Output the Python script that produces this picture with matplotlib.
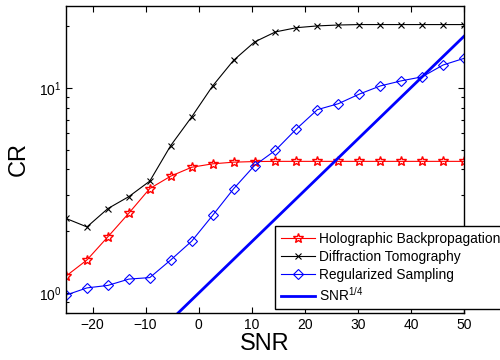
import numpy as np
import matplotlib
matplotlib.use("Agg")
import matplotlib.pyplot as plt
from matplotlib.ticker import LogLocator, NullFormatter, FixedLocator

plt.rcParams['font.family'] = ['Liberation Sans', 'DejaVu Sans']
plt.rcParams['mathtext.fontset'] = 'custom'
plt.rcParams['mathtext.rm'] = 'Liberation Sans'
plt.rcParams['mathtext.it'] = 'Liberation Sans'

snr = np.linspace(-25, 50, 20)
holographic = [1.21, 1.45, 1.88, 2.45, 3.23, 3.71, 4.10, 4.26, 4.34, 4.37,
               4.38, 4.38, 4.38, 4.38, 4.38, 4.38, 4.38, 4.38, 4.38, 4.38]
diffraction = [2.31, 2.10, 2.58, 2.95, 3.51, 5.23, 7.21, 10.2, 13.6, 16.7,
               18.7, 19.6, 20.0, 20.2, 20.3, 20.3, 20.3, 20.3, 20.3, 20.3]
regularized = [0.978, 1.06, 1.09, 1.17, 1.19, 1.45, 1.79, 2.39, 3.22, 4.18,
               4.96, 6.30, 7.82, 8.36, 9.31, 10.2, 10.8, 11.3, 12.9, 13.9]
snr_line_x = [-25, 50]
snr_line_y = [0.237, 17.8]

xticks = [-20, -10, 0, 10, 20, 30, 40, 50]

fig = plt.figure(figsize=(5.0, 3.6), dpi=100)
ax = fig.add_axes([66/500, 1-313/360, (464-66)/500, (313-6)/360])

lw = 0.8
ax.plot(snr, holographic, color='red', lw=lw, marker='*', ms=7.5,
        mfc='none', mec='red', mew=1.0, label='Holographic Backpropagation')
ax.plot(snr, diffraction, color='black', lw=lw, marker='x', ms=4.5,
        mew=0.8, label='Diffraction Tomography')
ax.plot(snr, regularized, color='blue', lw=lw, marker='D', ms=5.5,
        mfc='none', mec='blue', mew=0.8, label='Regularized Sampling')
ax.plot(snr_line_x, snr_line_y, color='blue', lw=2.0, label='SNR$^{1/4}$')

ax.set_yscale('log')
ax.set_xlim(-25, 50)
ax.set_ylim(0.8, 25)
ax.xaxis.set_major_locator(FixedLocator(xticks))
ax.yaxis.set_major_locator(LogLocator(base=10, numticks=10))
ax.yaxis.set_minor_locator(LogLocator(base=10, subs=np.arange(2, 10), numticks=10))
ax.yaxis.set_minor_formatter(NullFormatter())

ax.tick_params(which='both', direction='in', top=True, right=True,
               labelsize=10, width=0.8)
ax.tick_params(which='major', length=4)
ax.tick_params(which='minor', length=2)
for s in ax.spines.values():
    s.set_linewidth(1.0)

ax.set_xlabel('SNR', fontsize=17, labelpad=1)
ax.set_ylabel('CR', fontsize=17, labelpad=6)

leg = ax.legend(loc='upper left', bbox_to_anchor=(275/500, 1-226/360),
                bbox_transform=fig.transFigure, fontsize=9.9, frameon=True,
                fancybox=False, edgecolor='black', framealpha=1,
                handlelength=2.5, handletextpad=0.3, labelspacing=0.3,
                borderpad=0.4, borderaxespad=0)
leg.get_frame().set_linewidth(1.0)

fig.savefig('out.png', dpi=100)
